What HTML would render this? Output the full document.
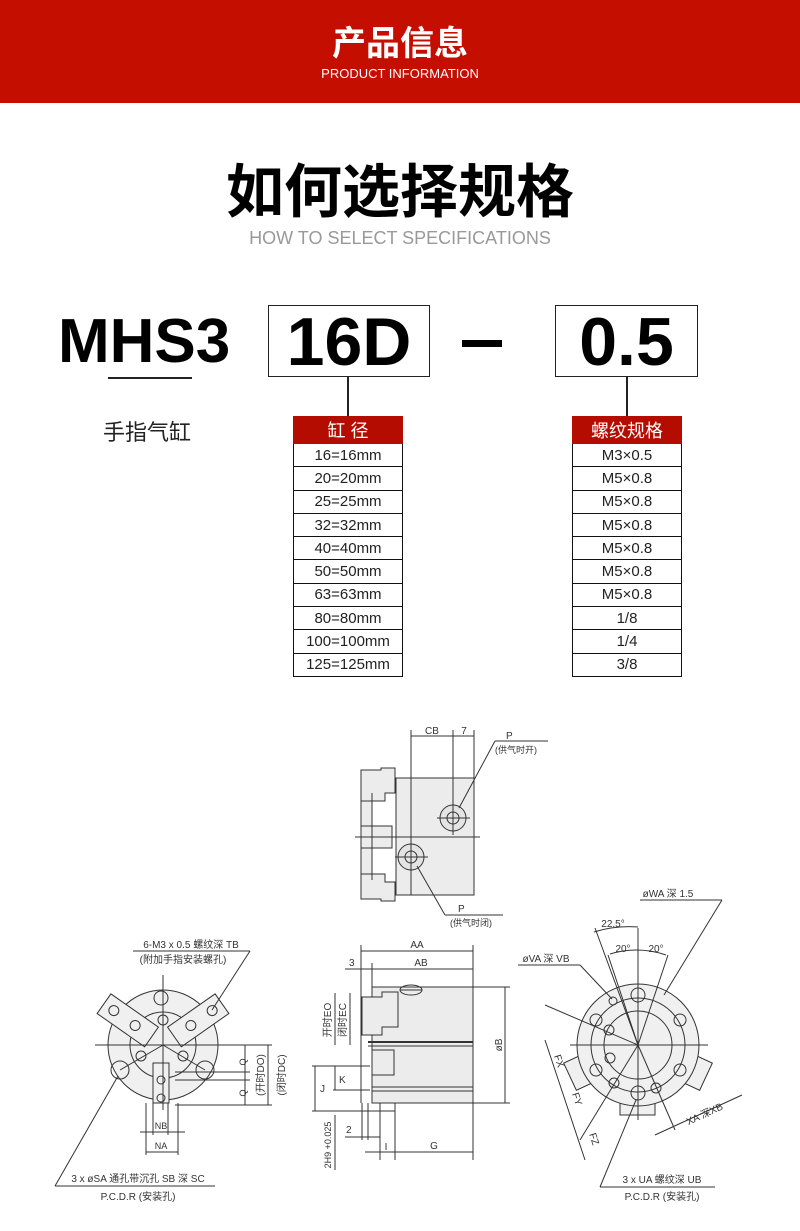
<!DOCTYPE html>
<html><head><meta charset="utf-8"><style>
*{margin:0;padding:0;box-sizing:border-box}
body{width:800px;height:1231px;background:#fff;position:relative;overflow:hidden;font-family:"Liberation Sans","Noto Sans CJK SC",sans-serif}
.a{position:absolute}
.hdr{left:0;top:0;width:800px;height:103px;background:#c40e00}
.t1{left:0;width:800px;text-align:center;color:#fff}
.box{border:1.5px solid #222;background:#fff}
table{position:absolute;border-collapse:collapse;font-family:"Liberation Sans","Noto Sans CJK SC",sans-serif}
td{border:1.2px solid #111;height:23.3px;text-align:center;font-size:15px;color:#222;padding:0}
th{background:#b50c00;color:#fff;font-weight:normal;font-size:18px;height:23px;border:1.2px solid #b50c00;padding:0}
svg text{font-family:"Liberation Sans","Noto Sans CJK SC",sans-serif;fill:#333}
</style></head><body>
<div class="a hdr"></div>
<div class="a t1" style="top:22px;font-size:34px;font-weight:bold;line-height:44px">产品信息</div>
<div class="a t1" style="top:66px;font-size:13px;line-height:16px">PRODUCT INFORMATION</div>
<div class="a" style="left:0;width:800px;top:158px;text-align:center;font-size:58px;font-weight:bold;line-height:70px;color:#000">如何选择规格</div>
<div class="a" style="left:0;width:800px;top:227px;text-align:center;font-size:18px;line-height:22px;color:#999">HOW TO SELECT SPECIFICATIONS</div>

<div class="a" style="left:58px;top:304px;font-size:62px;font-weight:bold;line-height:76px;color:#000">MHS3</div>
<div class="a" style="left:108px;top:377px;width:84px;height:1.5px;background:#222"></div>
<div class="a" style="left:103px;top:418px;font-size:22px;line-height:30px;color:#222">手指气缸</div>

<div class="a box" style="left:268px;top:305px;width:162px;height:72px"></div>
<div class="a" style="left:268px;top:304px;width:162px;text-align:center;font-size:68px;font-weight:bold;line-height:76px;color:#000">16D</div>
<div class="a" style="left:462px;top:340px;width:40px;height:7px;background:#000"></div>
<div class="a box" style="left:555px;top:305px;width:143px;height:72px"></div>
<div class="a" style="left:555px;top:304px;width:143px;text-align:center;font-size:68px;font-weight:bold;line-height:76px;color:#000">0.5</div>

<div class="a" style="left:347px;top:377px;width:1.5px;height:40px;background:#222"></div>
<div class="a" style="left:626px;top:377px;width:1.5px;height:40px;background:#222"></div>

<table style="left:293px;top:416px;width:110px">
<tr><th>缸 径</th></tr>
<tr><td>16=16mm</td></tr><tr><td>20=20mm</td></tr><tr><td>25=25mm</td></tr><tr><td>32=32mm</td></tr><tr><td>40=40mm</td></tr><tr><td>50=50mm</td></tr><tr><td>63=63mm</td></tr><tr><td>80=80mm</td></tr><tr><td>100=100mm</td></tr><tr><td>125=125mm</td></tr>
</table>
<table style="left:572px;top:416px;width:110px">
<tr><th>螺纹规格</th></tr>
<tr><td>M3×0.5</td></tr><tr><td>M5×0.8</td></tr><tr><td>M5×0.8</td></tr><tr><td>M5×0.8</td></tr><tr><td>M5×0.8</td></tr><tr><td>M5×0.8</td></tr><tr><td>M5×0.8</td></tr><tr><td>1/8</td></tr><tr><td>1/4</td></tr><tr><td>3/8</td></tr>
</table>

<svg class="a" style="left:0;top:0" width="800" height="1231" viewBox="0 0 800 1231" fill="none" stroke="#333" stroke-width="1">
<!-- top view -->
<rect x="396" y="778" width="78" height="117" fill="#ececec"/>
<rect x="361" y="778" width="11" height="117" fill="#ececec"/>
<path d="M361 770h20v-2h14v25h-10v8h-24z" fill="#ececec"/>
<rect x="361" y="826" width="31" height="22" fill="#ececec"/>
<path d="M361 874h24v8h10v19h-14v-2h-20z" fill="#ececec"/>
<line x1="372" y1="793" x2="372" y2="880"/>
<line x1="355" y1="837" x2="480" y2="837"/>
<circle cx="453" cy="818" r="13" fill="#e4e4e4"/><circle cx="453" cy="818" r="6"/>
<line x1="437" y1="818" x2="470" y2="818"/><line x1="453" y1="800" x2="453" y2="835"/>
<circle cx="411" cy="857" r="13" fill="#e4e4e4"/><circle cx="411" cy="857" r="6"/>
<line x1="395" y1="857" x2="428" y2="857"/><line x1="411" y1="840" x2="411" y2="874"/>
<line x1="411" y1="730" x2="411" y2="895"/><line x1="453" y1="730" x2="453" y2="818"/><line x1="474" y1="730" x2="474" y2="778"/>
<line x1="411" y1="736" x2="474" y2="736"/>
<text x="432" y="734" font-size="10" text-anchor="middle" stroke="none">CB</text>
<text x="464" y="734" font-size="10" text-anchor="middle" stroke="none">7</text>
<line x1="459" y1="808" x2="495" y2="741"/><line x1="495" y1="741" x2="548" y2="741"/>
<text x="506" y="739" font-size="10" stroke="none">P</text>
<text x="495" y="753" font-size="9" stroke="none">(供气时开)</text>
<line x1="417" y1="866" x2="445" y2="915"/><line x1="445" y1="915" x2="503" y2="915"/>
<text x="458" y="912" font-size="10" stroke="none">P</text>
<text x="450" y="926" font-size="9" stroke="none">(供气时闭)</text>

<!-- left view -->
<circle cx="163" cy="1045" r="55" fill="#f0f0f0"/>
<circle cx="163" cy="1045" r="33"/>
<g transform="translate(163,1045) rotate(35)"><rect x="-72" y="-12" width="58" height="24" fill="#f0f0f0"/><circle cx="-60" cy="0" r="5"/><circle cx="-34" cy="0" r="5"/></g>
<g transform="translate(163,1045) rotate(-35)"><rect x="14" y="-12" width="58" height="24" fill="#f0f0f0"/><circle cx="60" cy="0" r="5"/><circle cx="34" cy="0" r="5"/></g>
<rect x="153" y="1063" width="16" height="40" fill="#f0f0f0"/>
<circle cx="161" cy="1080" r="4"/><circle cx="161" cy="1098" r="4"/>
<circle cx="161" cy="998" r="7"/><circle cx="163" cy="1020" r="5"/>
<circle cx="141" cy="1056" r="5"/><circle cx="183" cy="1056" r="5"/>
<circle cx="120" cy="1070" r="9"/><circle cx="205" cy="1070" r="9"/>
<line x1="95" y1="1045" x2="240" y2="1045"/><line x1="163" y1="975" x2="163" y2="1110"/>
<line x1="163" y1="1045" x2="120" y2="1070"/><line x1="163" y1="1045" x2="205" y2="1070"/>
<line x1="210" y1="1045" x2="272" y2="1045"/><line x1="175" y1="1072" x2="250" y2="1072"/><line x1="175" y1="1080" x2="250" y2="1080"/><line x1="175" y1="1105" x2="272" y2="1105"/>
<line x1="245" y1="1045" x2="245" y2="1105"/><line x1="268" y1="1045" x2="268" y2="1105"/>
<text transform="translate(246,1062) rotate(-90)" font-size="9" text-anchor="middle" stroke="none">Q</text>
<text transform="translate(246,1093) rotate(-90)" font-size="9" text-anchor="middle" stroke="none">Q</text>
<text transform="translate(264,1075) rotate(-90)" font-size="10" text-anchor="middle" stroke="none">(开时DO)</text>
<text transform="translate(285,1075) rotate(-90)" font-size="10" text-anchor="middle" stroke="none">(闭时DC)</text>
<line x1="146" y1="1103" x2="146" y2="1155"/><line x1="178" y1="1103" x2="178" y2="1155"/><line x1="153" y1="1103" x2="153" y2="1135"/><line x1="168" y1="1103" x2="168" y2="1135"/>
<line x1="140" y1="1132" x2="185" y2="1132"/><line x1="146" y1="1152" x2="178" y2="1152"/>
<text x="161" y="1129" font-size="9" text-anchor="middle" stroke="none">NB</text>
<text x="161" y="1149" font-size="9" text-anchor="middle" stroke="none">NA</text>
<line x1="133" y1="951" x2="250" y2="951"/><line x1="250" y1="951" x2="212" y2="1010"/>
<text x="191" y="948" font-size="10" text-anchor="middle" stroke="none">6-M3 x 0.5 螺纹深 TB</text>
<text x="183" y="963" font-size="10" text-anchor="middle" stroke="none">(附加手指安装螺孔)</text>
<line x1="55" y1="1186" x2="215" y2="1186"/><line x1="55" y1="1186" x2="118" y2="1076"/>
<text x="138" y="1182" font-size="10" text-anchor="middle" stroke="none">3 x øSA 通孔带沉孔 SB 深 SC</text>
<text x="138" y="1200" font-size="10" text-anchor="middle" stroke="none">P.C.D.R (安装孔)</text>

<!-- middle view -->
<rect x="372" y="987" width="101" height="116" fill="#ececec"/>
<path d="M362 997h20v-5h16v35h-16v8h-20z" fill="#ececec"/>
<path d="M372 1050h22v25h-22z" fill="#ececec"/>
<line x1="368" y1="1042" x2="473" y2="1042" stroke-width="2"/><line x1="368" y1="1046" x2="473" y2="1046"/>
<line x1="372" y1="1087" x2="473" y2="1087"/><line x1="372" y1="1091" x2="473" y2="1091"/>
<ellipse cx="411" cy="990" rx="11" ry="5"/><line x1="400" y1="990" x2="422" y2="990"/>
<line x1="361" y1="945" x2="361" y2="1103"/><line x1="473" y1="945" x2="473" y2="1160"/><line x1="372" y1="963" x2="372" y2="987"/>
<line x1="361" y1="951" x2="473" y2="951"/><line x1="345" y1="969" x2="473" y2="969"/>
<text x="417" y="948" font-size="10" text-anchor="middle" stroke="none">AA</text>
<text x="421" y="966" font-size="10" text-anchor="middle" stroke="none">AB</text>
<text x="349" y="966" font-size="10" stroke="none">3</text>
<line x1="473" y1="987" x2="510" y2="987"/><line x1="473" y1="1103" x2="510" y2="1103"/><line x1="505" y1="987" x2="505" y2="1103"/>
<text transform="translate(502,1045) rotate(-90)" font-size="10" text-anchor="middle" stroke="none">øB</text>
<text transform="translate(331,1020) rotate(-90)" font-size="10" text-anchor="middle" stroke="none" fill="#777">开时EO</text>
<text transform="translate(346,1020) rotate(-90)" font-size="10" text-anchor="middle" stroke="none">闭时EC</text>
<line x1="335" y1="993" x2="335" y2="1045"/><line x1="350" y1="993" x2="350" y2="1045"/>
<line x1="312" y1="1066" x2="370" y2="1066"/><line x1="312" y1="1111" x2="395" y2="1111"/><line x1="333" y1="1090" x2="370" y2="1090"/>
<line x1="315" y1="1066" x2="315" y2="1111"/><line x1="335" y1="1066" x2="335" y2="1090"/>
<text x="320" y="1092" font-size="10" stroke="none">J</text><text x="339" y="1083" font-size="10" stroke="none">K</text>
<text transform="translate(331,1145) rotate(-90)" font-size="9" text-anchor="middle" stroke="none">2H9 +0.025</text>
<line x1="335" y1="1115" x2="335" y2="1170"/>
<line x1="362" y1="1103" x2="362" y2="1140"/><line x1="368" y1="1103" x2="368" y2="1140"/><line x1="345" y1="1137" x2="380" y2="1137"/>
<text x="346" y="1133" font-size="10" stroke="none">2</text>
<line x1="380" y1="1103" x2="380" y2="1160"/><line x1="395" y1="1103" x2="395" y2="1160"/><line x1="365" y1="1152" x2="473" y2="1152"/>
<text x="386" y="1150" font-size="10" text-anchor="middle" stroke="none">I</text>
<text x="434" y="1149" font-size="10" text-anchor="middle" stroke="none">G</text>

<!-- right view -->
<g transform="translate(638,1045) rotate(-25)"><rect x="-75" y="-15" width="20" height="30" fill="#f0f0f0"/></g>
<g transform="translate(638,1045) rotate(25)"><rect x="55" y="-15" width="20" height="30" fill="#f0f0f0"/></g>
<rect x="620" y="1095" width="35" height="20" fill="#f0f0f0"/>
<circle cx="638" cy="1045" r="61" fill="#f0f0f0"/>
<circle cx="638" cy="1045" r="47"/><circle cx="638" cy="1045" r="34"/>
<circle cx="638" cy="995" r="7"/><circle cx="596" cy="1020" r="6"/><circle cx="680" cy="1020" r="6"/><circle cx="596" cy="1070" r="6"/><circle cx="680" cy="1070" r="6"/><circle cx="638" cy="1093" r="7"/>
<circle cx="613" cy="1001" r="4"/><circle cx="609" cy="1030" r="5"/><circle cx="610" cy="1058" r="5"/><circle cx="614" cy="1083" r="5"/><circle cx="656" cy="1088" r="5"/>
<line x1="570" y1="1045" x2="708" y2="1045"/><line x1="638" y1="928" x2="638" y2="1120"/>
<line x1="638" y1="1045" x2="595" y2="928"/><line x1="638" y1="1045" x2="608" y2="955"/><line x1="638" y1="1045" x2="668" y2="955"/>
<line x1="638" y1="1045" x2="545" y2="1005"/><line x1="638" y1="1045" x2="580" y2="1140"/><line x1="638" y1="1045" x2="675" y2="1130"/>
<path d="M594 932 A115 115 0 0 1 638 927" /><path d="M610 954 A92 92 0 0 1 666 955"/>
<text x="613" y="927" font-size="10" text-anchor="middle" stroke="none">22.5°</text>
<text x="623" y="952" font-size="10" text-anchor="middle" stroke="none">20°</text>
<text x="656" y="952" font-size="10" text-anchor="middle" stroke="none">20°</text>
<line x1="640" y1="900" x2="722" y2="900"/><line x1="722" y1="900" x2="664" y2="995"/>
<text x="668" y="897" font-size="10" text-anchor="middle" stroke="none">øWA 深 1.5</text>
<line x1="518" y1="965" x2="580" y2="965"/><line x1="580" y1="965" x2="612" y2="999"/>
<text x="546" y="962" font-size="10" text-anchor="middle" stroke="none">øVA 深 VB</text>
<line x1="545" y1="1040" x2="585" y2="1160"/>
<text transform="translate(556,1062) rotate(72)" font-size="10" text-anchor="middle" stroke="none">FX</text>
<text transform="translate(574,1100) rotate(72)" font-size="10" text-anchor="middle" stroke="none">FY</text>
<text transform="translate(591,1140) rotate(72)" font-size="10" text-anchor="middle" stroke="none">FZ</text>
<line x1="655" y1="1135" x2="742" y2="1095"/>
<text transform="translate(706,1117) rotate(-25)" font-size="10" text-anchor="middle" stroke="none">XA 深XB</text>
<line x1="600" y1="1187" x2="715" y2="1187"/><line x1="600" y1="1187" x2="636" y2="1100"/>
<text x="662" y="1183" font-size="10" text-anchor="middle" stroke="none">3 x UA  螺纹深 UB</text>
<text x="662" y="1200" font-size="10" text-anchor="middle" stroke="none">P.C.D.R (安装孔)</text>
</svg>
</body></html>
